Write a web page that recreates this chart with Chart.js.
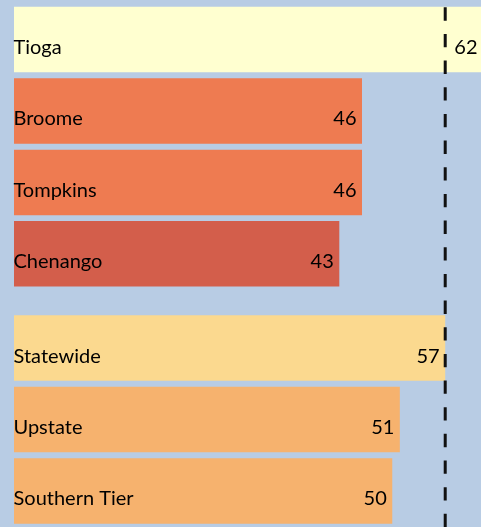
<!DOCTYPE html>
<html>
<head>
<meta charset="utf-8">
<script src="https://cdn.jsdelivr.net/npm/chart.js@4.4.1/dist/chart.umd.min.js"></script>
<style>
  html, body { margin: 0; padding: 0; background: #b8cce4; }
  #wrap { width: 481px; height: 527px; position: relative; }
</style>
</head>
<body>
<div id="wrap"><canvas id="c" width="481" height="527"></canvas></div>
<script>
// ---- data ----
const categories = ['Tioga', 'Broome', 'Tompkins', 'Chenango', 'Statewide', 'Upstate', 'Southern Tier'];
const values = [62, 46, 46, 43, 57, 51, 50];
const groups = [0, 0, 0, 0, 1, 1, 1];          // counties vs. regions
const referenceValue = 57;                      // statewide reference line
const barColors = ['#ffffd0', '#ee7b51', '#ee7b51', '#d35e4b', '#fbd98f', '#f6b26e', '#f6b26e'];

// ---- layout helpers ----
const GROUP_GAP = 0.32;
const rowPos = categories.map((c, i) => i + groups[i] * GROUP_GAP);
const points = values.map((v, i) => ({ x: v, y: rowPos[i] }));

const FONT = '20px Lato, "Open Sans", sans-serif';

const labelPlugin = {
  id: 'labels',
  afterDatasetsDraw(chart) {
    const { ctx, chartArea } = chart;
    const meta = chart.getDatasetMeta(0);
    ctx.save();
    ctx.font = FONT;
    ctx.fillStyle = '#000';
    ctx.textBaseline = 'alphabetic';
    meta.data.forEach((bar, i) => {
      const base = bar.y + 14.5;
      ctx.textAlign = 'left';
      ctx.fillText(categories[i], chartArea.left - 0.5, base);
      ctx.textAlign = 'right';
      const end = Math.min(bar.x, chartArea.right + 2);
      ctx.fillText(String(values[i]), end - 5.5, base);
    });
    // reference dashed line
    const x = chart.scales.x.getPixelForValue(referenceValue);
    ctx.strokeStyle = '#111';
    ctx.lineWidth = 3;
    ctx.setLineDash([13.33, 13.33]);
    ctx.beginPath();
    ctx.moveTo(x, 7.3);
    ctx.lineTo(x, chart.height);
    ctx.stroke();
    ctx.restore();
  }
};

new Chart(document.getElementById('c'), {
  type: 'bar',
  data: {
    datasets: [{
      data: points,
      backgroundColor: barColors,
      borderWidth: 0,
      barPercentage: 0.917,
      categoryPercentage: 1
    }]
  },
  options: {
    indexAxis: 'y',
    responsive: false,
    animation: false,
    layout: { padding: { left: 14, right: 0, top: 0, bottom: 0 } },
    plugins: { legend: { display: false }, tooltip: { enabled: false } },
    scales: {
      x: { type: 'linear', min: 0, max: 61.73, display: false },
      y: {
        type: 'linear', reverse: true, min: -0.553, max: 6.824, display: false,
        afterBuildTicks: s => { s.ticks = []; }
      }
    }
  },
  plugins: [labelPlugin]
});
</script>
</body>
</html>
